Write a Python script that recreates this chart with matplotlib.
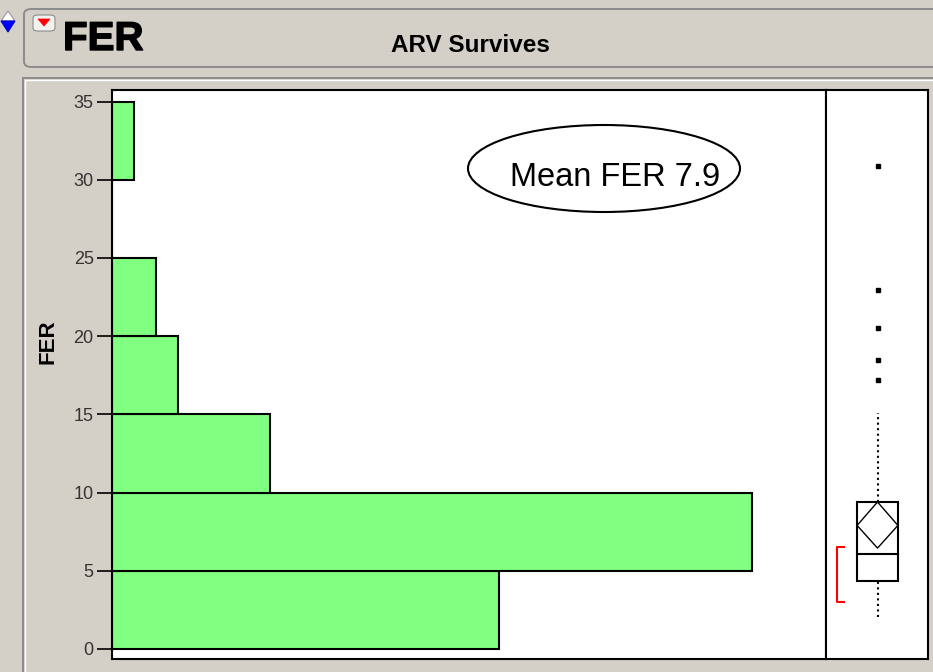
import matplotlib
matplotlib.use('Agg')
import matplotlib.pyplot as plt
import matplotlib.patheffects as pe
from matplotlib.patches import Ellipse, FancyBboxPatch, Rectangle, Polygon

plt.rcParams['font.family'] = ['Liberation Sans', 'DejaVu Sans']

# histogram bins (FER) and bar lengths (counts)
bin_lo = [0, 5, 10, 15, 20, 25, 30]
counts = [17.6, 29.15, 7.2, 3.0, 2.0, 0, 1.0]
yticks = [0, 5, 10, 15, 20, 25, 30, 35]

# outlier box plot summary
outliers = [30.9, 22.95, 20.5, 18.5, 17.2]
whisker_lo, whisker_hi = 2.05, 15.1
q1, median, q3 = 4.35, 6.07, 9.4
mean, ci_lo, ci_hi = 7.9, 6.45, 9.4
short_lo, short_hi = 3.0, 6.5

title = 'FER'
subtitle = 'ARV Survives'
note = 'Mean FER 7.9'

W, H = 933, 672
bg = '#D4D0C8'
green = '#80FF80'


def fx(x):
    return x / W


def fy(y):
    return 1 - y / H


fig = plt.figure(figsize=(W / 100, H / 100), dpi=100)
fig.patch.set_facecolor(bg)

# header panel
hdr = FancyBboxPatch((fx(24), fy(67)), fx(960) - fx(24), fy(9) - fy(67),
                     boxstyle='round,pad=0,rounding_size=0.008',
                     transform=fig.transFigure, facecolor=bg,
                     edgecolor='#8c8c8c', lw=1.4, zorder=-5)
fig.add_artist(hdr)
# plot panel
fig.add_artist(Rectangle((fx(23), fy(700)), fx(960) - fx(23), fy(78) - fy(700),
                         transform=fig.transFigure, facecolor=bg,
                         edgecolor='#8c8c8c', lw=1.4, zorder=-5))
fig.add_artist(Rectangle((fx(25), fy(700)), fx(960) - fx(25), fy(80) - fy(700),
                         transform=fig.transFigure, facecolor='none',
                         edgecolor='white', lw=1, zorder=-4))

# little disclosure icons
fig.add_artist(Polygon([[fx(1), fy(21)], [fx(8), fy(11)], [fx(15), fy(21)]],
                       closed=True, transform=fig.transFigure,
                       facecolor='white', edgecolor='#999999', lw=0.8))
fig.add_artist(Polygon([[fx(1), fy(21)], [fx(8), fy(32)], [fx(15), fy(21)]],
                       closed=True, transform=fig.transFigure,
                       facecolor='#0000FF', edgecolor='#0000CC', lw=0.8))
fig.add_artist(FancyBboxPatch((fx(33), fy(31)), fx(22), 16 / H,
                              boxstyle='round,pad=0,rounding_size=0.005',
                              transform=fig.transFigure, facecolor='#f4f2ee',
                              edgecolor='#8c8c8c', lw=0.8))
fig.add_artist(Polygon([[fx(38), fy(19)], [fx(50), fy(19)], [fx(44), fy(26)]],
                       closed=True, transform=fig.transFigure,
                       facecolor='#FF0000', edgecolor='#FF0000', lw=0.5))

fig.text(fx(63), fy(39), title, fontsize=29, fontweight='bold',
         va='center', ha='left',
         path_effects=[pe.withStroke(linewidth=1.0, foreground='black')])
fig.text(fx(470), fy(46), subtitle, fontsize=17.5, fontweight='bold',
         va='center', ha='center')

# histogram axes
ax = fig.add_axes([fx(111.7), fy(659), fx(826) - fx(111.7), fy(90) - fy(659)])
ax.barh(bin_lo, counts, height=5, align='edge', color=green,
        edgecolor='black', lw=1.5)
ax.set_ylim(-0.64, 35.74)
ax.set_xlim(0, 715 / 22)
ax.set_yticks(yticks)
ax.set_yticklabels([str(t) for t in yticks], fontsize=13, color='#333333')
ax.tick_params(axis='y', length=11, width=1.2, pad=2)
ax.set_xticks([])
ax.set_ylabel('FER', fontsize=16, fontweight='bold')
ax.yaxis.set_label_coords(-0.075, 0.557)
for s in ax.spines.values():
    s.set_linewidth(1.5)

ell = Ellipse((fx(604), fy(168.5)), fx(272), 87 / H,
              transform=fig.transFigure, facecolor='white',
              edgecolor='black', lw=1.5, zorder=5)
ax.add_patch(ell)
ell.set_clip_on(False)
ax.text(fx(615), fy(177), note, transform=fig.transFigure, fontsize=23.5,
        ha='center', va='center', zorder=6)

# box plot axes
bx = fig.add_axes([fx(826), fy(659), fx(928) - fx(826), fy(90) - fy(659)])
bx.set_ylim(-0.64, 35.74)
bx.set_xlim(0, 1)
bx.set_xticks([])
bx.set_yticks([])
for s in bx.spines.values():
    s.set_linewidth(1.5)

c = 0.505
hw = 0.2
bx.plot([c, c], [whisker_lo, q1], ls=':', color='black', lw=1.5)
bx.plot([c, c], [q3, whisker_hi], ls=':', color='black', lw=1.5)
bx.add_patch(Rectangle((c - hw, q1), 2 * hw, q3 - q1, facecolor='none',
                       edgecolor='black', lw=1.5))
bx.plot([c - hw, c + hw], [median, median], color='black', lw=1.5)
bx.add_patch(Polygon([[c - hw, mean], [c, ci_hi], [c + hw, mean], [c, ci_lo]],
                     closed=True, facecolor='none', edgecolor='black', lw=1))
bx.plot([c] * len(outliers), outliers, 's', color='black', ms=2.5)
bx.plot([0.18, 0.11, 0.11, 0.18], [short_hi, short_hi, short_lo, short_lo],
        color='#FF0000', lw=1.5)

fig.savefig('out.png', dpi=100, facecolor=bg)
